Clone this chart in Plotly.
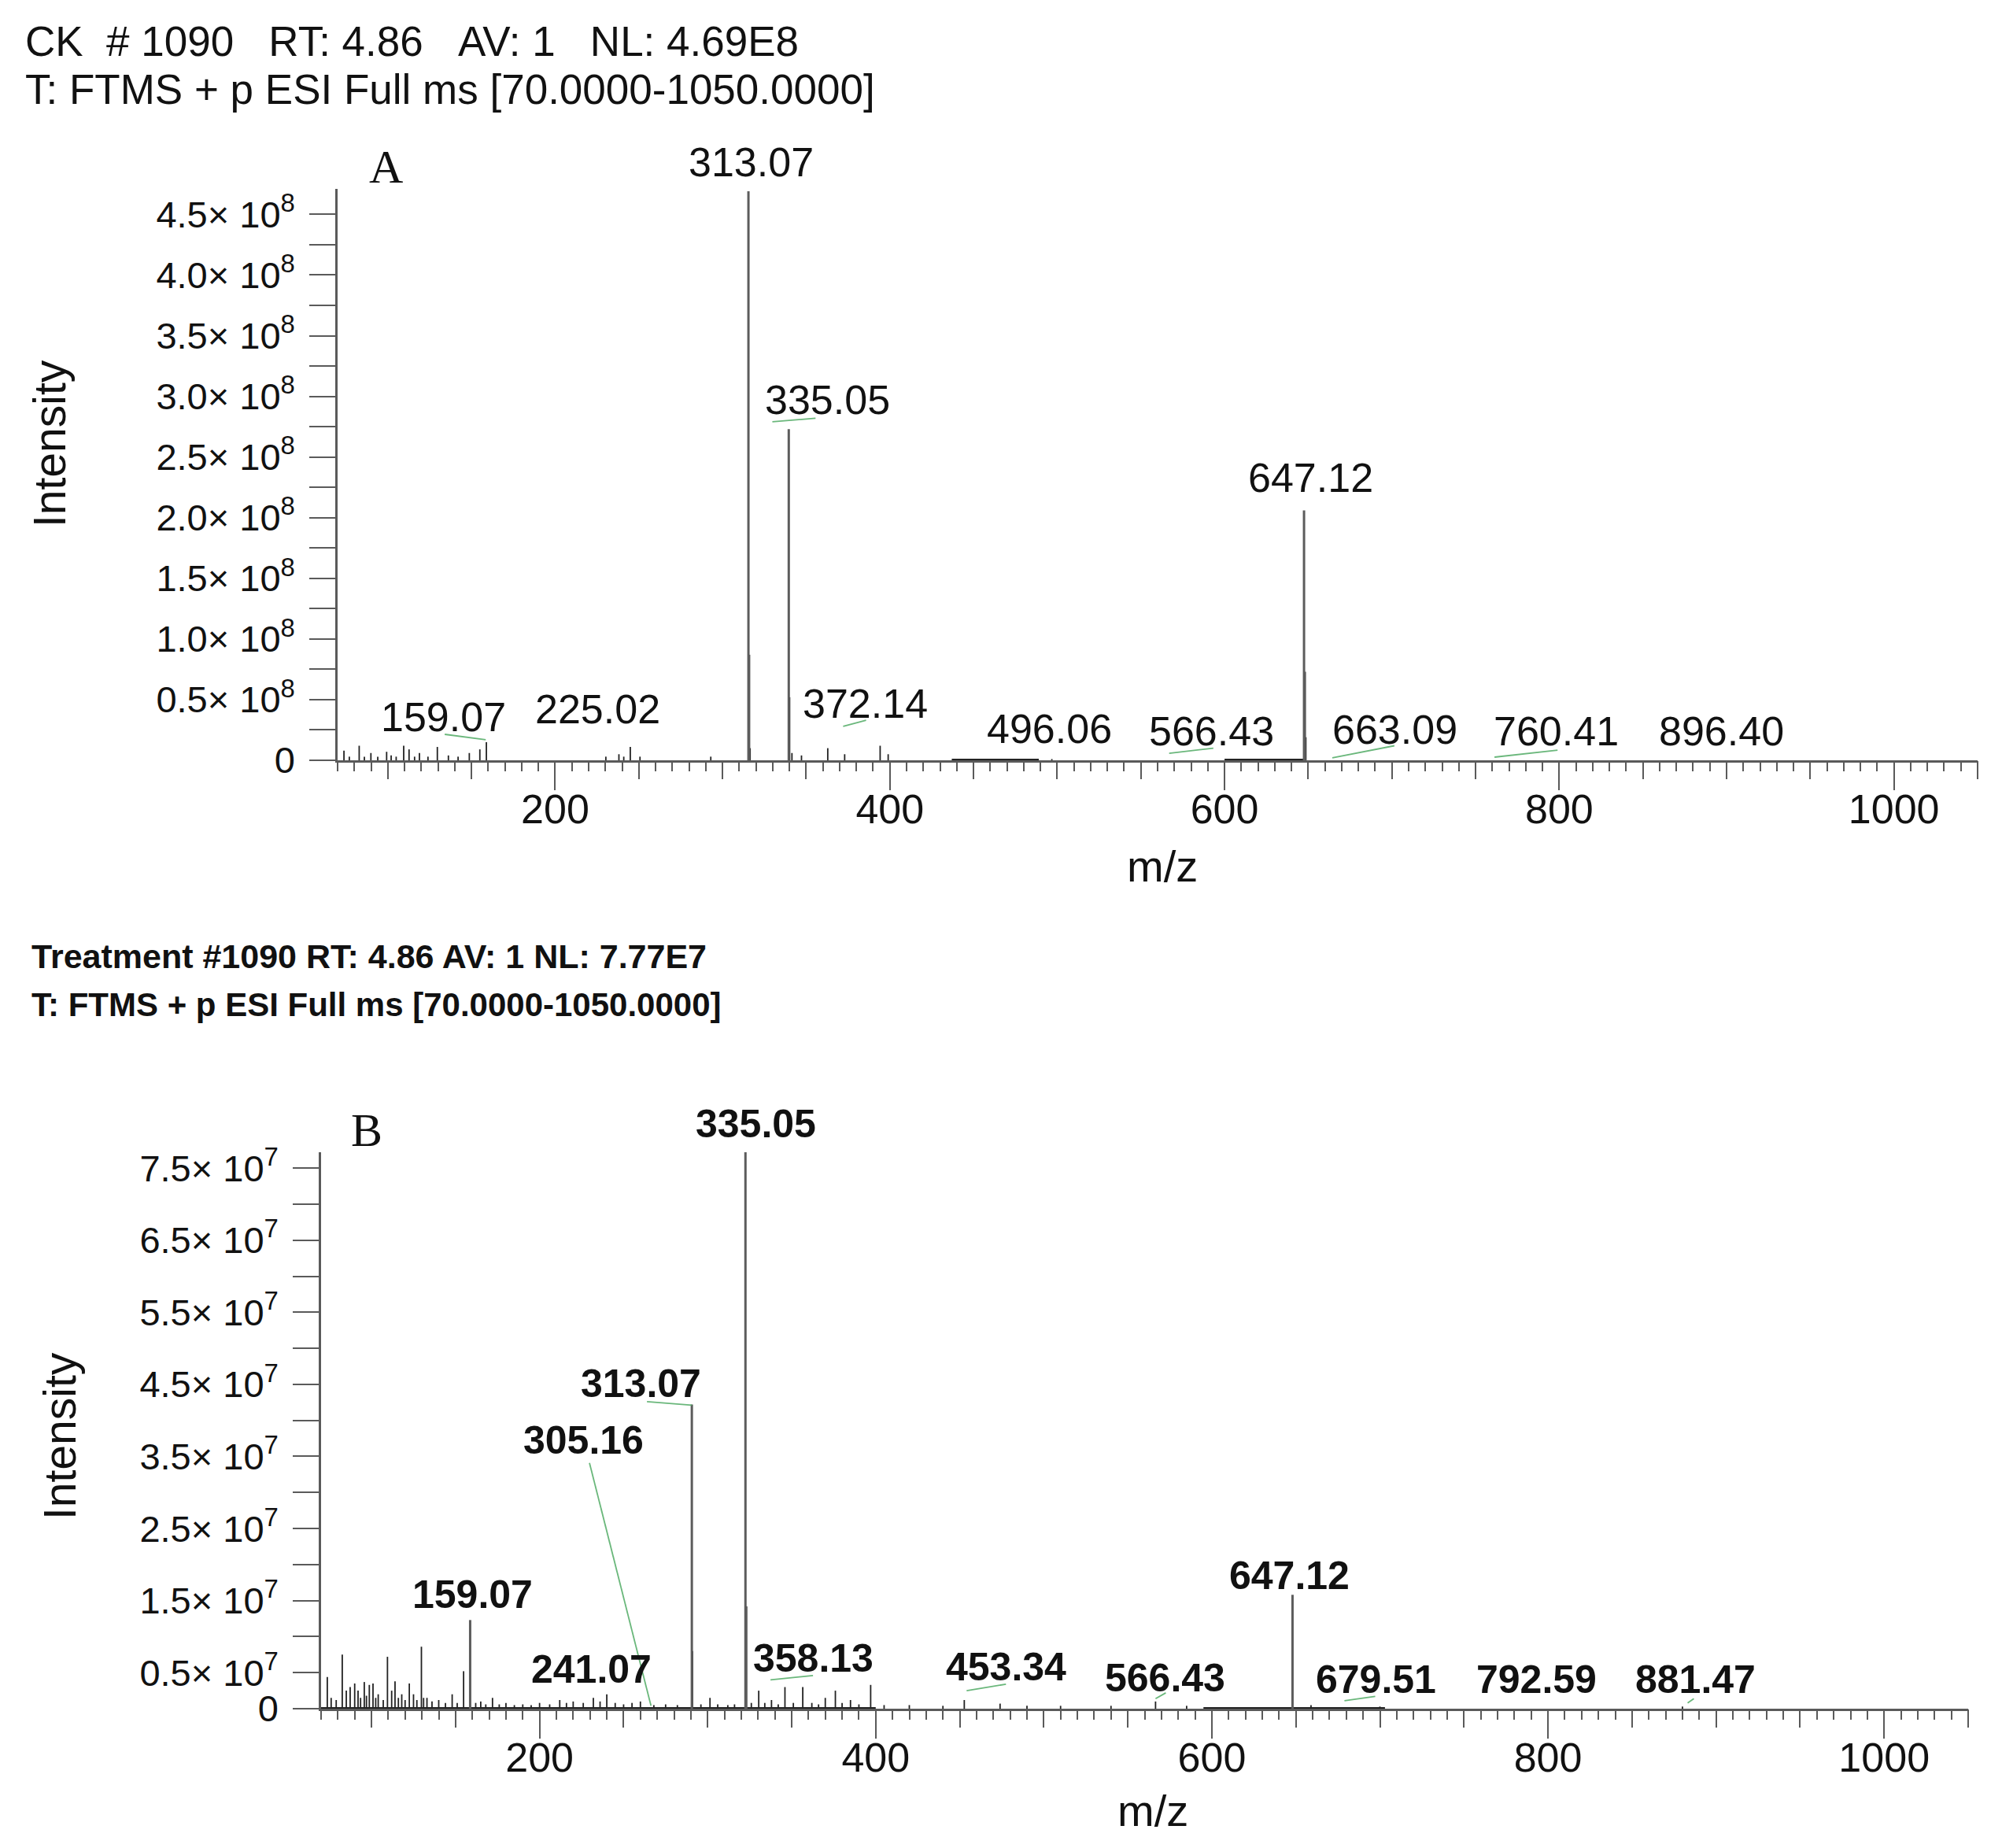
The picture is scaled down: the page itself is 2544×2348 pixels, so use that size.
import plotly.graph_objects as go

NB = "\u00a0"

# ---------------- Panel A (CK) : stick spectrum as drawn (m/z, intensity) ----------------
a_mz = [73.8, 77.0, 82.9, 86.0, 89.9, 94.0, 99.3, 102.0, 105.0, 109.5, 112.7, 116.0, 118.9, 124.0, 129.6,
        136.2, 142.0, 148.7, 155.0, 158.9,
        230.3, 238.1, 241.0, 244.9, 250.7, 293.0,
        315.5, 315.9, 316.5, 339.6, 340.1, 341.5, 347.2, 362.9, 373.0, 394.2, 399.0, 496.8,
        647.5, 648.0, 648.6]
a_int = [0.08e8, 0.03e8, 0.12e8, 0.03e8, 0.06e8, 0.03e8, 0.07e8, 0.04e8, 0.03e8, 0.12e8, 0.09e8, 0.03e8, 0.06e8,
         0.03e8, 0.11e8, 0.04e8, 0.03e8, 0.06e8, 0.09e8, 0.15e8,
         0.03e8, 0.05e8, 0.03e8, 0.11e8, 0.03e8, 0.03e8,
         4.69e8, 0.87e8, 0.10e8, 2.73e8, 0.52e8, 0.06e8, 0.04e8, 0.10e8, 0.05e8, 0.12e8, 0.05e8, 0.01e8,
         2.06e8, 0.73e8, 0.19e8]
a_dense_from = [437, 600]
a_dense_to = [489, 647]

a_lab_text = ["313.07", "335.05", "647.12", "159.07", "225.02", "372.14", "496.06", "566.43",
              "663.09", "760.41", "896.40"]
a_lab_mz = [317.1, 362.7, 651.6, 133.1, 225.3, 385.3, 495.4, 592.4, 702.0, 798.0, 896.8]
a_lab_int = [4.93e8, 2.97e8, 2.33e8, 0.357e8, 0.42e8, 0.47e8, 0.26e8, 0.24e8, 0.25e8, 0.24e8, 0.24e8]

# leader lines (start m/z, start int, end m/z, end int)
a_lead = [(134.0, 0.214e8, 158.5, 0.169e8), (329.8, 2.79e8, 355.6, 2.82e8),
          (372.1, 0.28e8, 385.8, 0.33e8), (566.9, 0.058e8, 593.3, 0.10e8),
          (664.4, 0.02e8, 701.5, 0.12e8), (761.3, 0.026e8, 799.0, 0.084e8)]

a_ymax = 4.71e8
a_yticks = [0, 0.5e8, 1.0e8, 1.5e8, 2.0e8, 2.5e8, 3.0e8, 3.5e8, 4.0e8, 4.5e8]
a_ylabels = ["0", "0.5× 10<sup>8</sup>", "1.0× 10<sup>8</sup>", "1.5× 10<sup>8</sup>", "2.0× 10<sup>8</sup>",
             "2.5× 10<sup>8</sup>", "3.0× 10<sup>8</sup>", "3.5× 10<sup>8</sup>", "4.0× 10<sup>8</sup>",
             "4.5× 10<sup>8</sup>"]

# ---------------- Panel B (Treatment) ----------------
b_mz = [73.7, 76.0, 79.0, 82.6, 85.0, 87.3, 90.0, 92.0, 93.5, 95.7, 97.0, 98.7, 100.9, 102.5, 104.0, 107.0,
        109.5, 112.0, 114.0, 116.0, 118.0, 120.0, 122.5, 125.0, 127.0, 129.7, 131.0, 133.0, 136.0, 140.0,
        144.0, 148.0, 151.0, 154.8, 158.7, 162.0, 165.0, 168.0, 172.0, 176.0, 180.0, 185.0, 190.0, 195.0,
        200.0, 206.0, 212.0, 216.0, 220.0, 226.0, 232.0, 236.0, 240.0, 245.0, 250.0, 255.0, 260.0, 268.0,
        275.0, 282.0, 290.6, 291.0, 296.0, 301.4, 306.0, 312.0, 316.0, 322.5, 323.0, 326.0, 330.4, 334.0,
        338.0, 342.0, 346.0, 351.0, 356.6, 362.0, 366.0, 370.0, 376.0, 380.0, 385.0, 390.0, 397.0, 405.0,
        420.0, 440.0, 452.7, 474.0, 490.0, 510.0, 540.0, 566.5, 585.0, 648.0, 659.0, 700.0, 880.0]
b_int = [0.44e7, 0.15e7, 0.12e7, 0.75e7, 0.25e7, 0.30e7, 0.35e7, 0.25e7, 0.15e7, 0.37e7, 0.18e7, 0.33e7, 0.35e7,
         0.15e7, 0.20e7, 0.12e7, 0.72e7, 0.25e7, 0.38e7, 0.15e7, 0.20e7, 0.12e7, 0.35e7, 0.20e7, 0.12e7,
         0.86e7, 0.15e7, 0.15e7, 0.10e7, 0.12e7, 0.08e7, 0.20e7, 0.08e7, 0.52e7, 1.23e7, 0.08e7, 0.10e7,
         0.06e7, 0.15e7, 0.06e7, 0.08e7, 0.05e7, 0.06e7, 0.05e7, 0.08e7, 0.06e7, 0.12e7, 0.08e7, 0.10e7,
         0.08e7, 0.15e7, 0.10e7, 0.20e7, 0.08e7, 0.06e7, 0.08e7, 0.10e7, 0.05e7, 0.06e7, 0.05e7, 4.22e7,
         0.80e7, 0.06e7, 0.15e7, 0.06e7, 0.05e7, 0.06e7, 7.77e7, 1.42e7, 0.08e7, 0.25e7, 0.08e7, 0.12e7,
         0.06e7, 0.30e7, 0.08e7, 0.30e7, 0.08e7, 0.06e7, 0.15e7, 0.25e7, 0.08e7, 0.12e7, 0.06e7, 0.33e7,
         0.05e7, 0.05e7, 0.04e7, 0.12e7, 0.07e7, 0.04e7, 0.04e7, 0.04e7, 0.10e7, 0.04e7, 1.58e7, 0.05e7,
         0.03e7, 0.03e7]
b_dense_from = [70, 595]
b_dense_to = [400, 703]

b_lab_text = ["335.05", "313.07", "305.16", "159.07", "241.07", "358.13", "453.34", "566.43",
              "647.12", "679.51", "792.59", "881.47"]
b_lab_mz = [328.5, 260.2, 226.0, 159.9, 230.7, 362.7, 477.5, 572.1, 646.1, 697.6, 793.2, 887.8]
b_lab_int = [8.11e7, 4.51e7, 3.72e7, 1.58e7, 0.55e7, 0.70e7, 0.58e7, 0.43e7, 1.85e7, 0.40e7, 0.40e7, 0.40e7]

b_lead = [(229.7, 3.41e7, 266.3, 0.04e7), (263.9, 4.26e7, 290.6, 4.21e7),
          (337.4, 0.40e7, 362.7, 0.46e7), (454.1, 0.25e7, 477.5, 0.34e7),
          (566.5, 0.14e7, 572.6, 0.22e7), (678.9, 0.11e7, 697.2, 0.17e7),
          (883.1, 0.08e7, 886.8, 0.14e7)]

b_ymax = 7.72e7
b_yticks = [0, 0.5e7, 1.5e7, 2.5e7, 3.5e7, 4.5e7, 5.5e7, 6.5e7, 7.5e7]
b_ylabels = ["0", "0.5× 10<sup>7</sup>", "1.5× 10<sup>7</sup>", "2.5× 10<sup>7</sup>", "3.5× 10<sup>7</sup>",
             "4.5× 10<sup>7</sup>", "5.5× 10<sup>7</sup>", "6.5× 10<sup>7</sup>", "7.5× 10<sup>7</sup>"]

x_ticks = [200, 400, 600, 800, 1000]
mz_range = [70, 1050]

# ---------------- layout helpers (page offset of the body margin) ----------------
W, H = 2544, 2348
DX, DY = 5.0, 8.0


def px(X):
    return (X - DX) / W


def py(Y):
    return 1 - (Y - DY) / H


SANS = "Liberation Sans, Arial, sans-serif"
SERIF = "Liberation Serif, Times New Roman, serif"
AX = "#5a5a5a"


def sticks(mz, inten, keep):
    xs, ys = [], []
    for m, i in zip(mz, inten):
        if keep(i):
            xs += [m, m, None]
            ys += [0, i, None]
    return xs, ys


def segs(pairs):
    xs, ys = [], []
    for x0, y0, x1, y1 in pairs:
        xs += [x0, x1, None]
        ys += [y0, y1, None]
    return xs, ys


def quarter_ticks(top, step):
    vals = []
    v = 0.0
    while v <= top * 1.0001:
        vals.append(v)
        v += step
    return vals


fig = go.Figure()


def add_panel(mz, inten, ymax, dfrom, dto, lead, xa, ya):
    big = lambda i: i > 0.12 * ymax
    small = lambda i: i <= 0.12 * ymax
    # dense low-level baseline
    dx, dy = segs([(f, 0, t, 0) for f, t in zip(dfrom, dto)])
    fig.add_trace(go.Scatter(x=dx, y=dy, mode="lines", line=dict(color="#222", width=4),
                             xaxis=xa, yaxis=ya, hoverinfo="skip", showlegend=False, cliponaxis=False))
    sx, sy = sticks(mz, inten, small)
    fig.add_trace(go.Scatter(x=sx, y=sy, mode="lines", line=dict(color="#222", width=1.8),
                             xaxis=xa, yaxis=ya, hoverinfo="skip", showlegend=False))
    bx, by = sticks(mz, inten, big)
    fig.add_trace(go.Scatter(x=bx, y=by, mode="lines", line=dict(color="#5c5c5c", width=3),
                             xaxis=xa, yaxis=ya, hoverinfo="skip", showlegend=False))
    lx, ly = segs(lead)
    fig.add_trace(go.Scatter(x=lx, y=ly, mode="lines", line=dict(color="rgba(80,170,100,0.85)", width=1.8),
                             xaxis=xa, yaxis=ya, hoverinfo="skip", showlegend=False, cliponaxis=False))


add_panel(a_mz, a_int, a_ymax, a_dense_from, a_dense_to, a_lead, "x", "y")
add_panel(b_mz, b_int, b_ymax, b_dense_from, b_dense_to, b_lead, "x2", "y2")

# carrier traces for the overlay tick axes
fig.add_trace(go.Scatter(x=[None], y=[None], xaxis="x3", yaxis="y", showlegend=False, hoverinfo="skip"))
fig.add_trace(go.Scatter(x=[None], y=[None], xaxis="x4", yaxis="y2", showlegend=False, hoverinfo="skip"))


def tick_set(top, step, vals, labels):
    tv = quarter_ticks(top, step)
    tt = []
    for v in tv:
        lab = ""
        for a, b in zip(vals, labels):
            if abs(a - v) < 1:
                lab = b
        tt.append(lab)
    return tv, tt


a_tv, a_tt = tick_set(4.5e8, 0.25e8, a_yticks, a_ylabels)
b_tv, b_tt = tick_set(7.5e7, 0.5e7, b_yticks, b_ylabels)

xa_dom = [px(426), px(2510)]
xb_dom = [px(405), px(2498)]
ya_dom = [py(966), py(240)]
yb_dom = [py(2171), py(1464)]

common_x = dict(range=mz_range, showgrid=False, zeroline=False, showline=True, linecolor=AX, linewidth=2.5,
                ticks="outside", ticklen=35, tickwidth=2, tickcolor=AX, tickmode="array", tickvals=x_ticks,
                tickfont=dict(family=SANS, size=52, color="#111"), ticklabelstandoff=-20, automargin=False,
                minor=dict(tickmode="linear", tick0=0, dtick=10, ticks="outside", ticklen=11, tickwidth=1.5,
                           tickcolor=AX))
overlay_x = dict(range=mz_range, showgrid=False, zeroline=False, showline=False, ticks="outside", ticklen=23,
                 tickwidth=1.8, tickcolor=AX, tickmode="linear", tick0=0, dtick=50, showticklabels=False,
                 automargin=False)
common_y = dict(showgrid=False, zeroline=False, showline=True, linecolor=AX, linewidth=2.5, ticks="outside",
                ticklen=33, tickwidth=2, tickcolor=AX, tickmode="array", automargin=False,
                tickfont=dict(family=SANS, size=47, color="#111"), ticklabelstandoff=9)

fig.update_layout(
    width=W, height=H, margin=dict(l=0, r=0, t=0, b=0, autoexpand=False),
    paper_bgcolor="white", plot_bgcolor="white", showlegend=False,
    xaxis=dict(domain=xa_dom, anchor="y", **common_x),
    xaxis3=dict(overlaying="x", anchor="y", side="bottom", **overlay_x),
    yaxis=dict(domain=ya_dom, anchor="x", range=[0, a_ymax], tickvals=a_tv, ticktext=a_tt, **common_y),
    xaxis2=dict(domain=xb_dom, anchor="y2", **common_x),
    xaxis4=dict(overlaying="x2", anchor="y2", side="bottom", **overlay_x),
    yaxis2=dict(domain=yb_dom, anchor="x2", range=[0, b_ymax], tickvals=b_tv, ticktext=b_tt, **common_y),
)

ann = []
# peak labels A (positions relative to the y domain so labels above the range stay visible)
for t, m, i in zip(a_lab_text, a_lab_mz, a_lab_int):
    ann.append(dict(x=m, y=i / a_ymax, xref="x", yref="y domain", text=t, showarrow=False,
                    xanchor="center", yanchor="middle", font=dict(family=SANS, size=52, color="#111")))
# peak labels B (bold)
for t, m, i in zip(b_lab_text, b_lab_mz, b_lab_int):
    ann.append(dict(x=m, y=i / b_ymax, xref="x2", yref="y2 domain", text="<b>" + t + "</b>", showarrow=False,
                    xanchor="center", yanchor="middle", font=dict(family=SANS, size=50, color="#111")))

# headers
hdrA1 = "CK" + NB * 2 + "#" + NB + "1090" + NB * 3 + "RT:" + NB + "4.86" + NB * 3 + "AV:" + NB + "1" + NB * 3 + "NL:" + NB + "4.69E8"
hdr2 = "T:" + NB + "FTMS" + NB + "+" + NB + "p" + NB + "ESI" + NB + "Full" + NB + "ms" + NB + "[70.0000-1050.0000]"
hdrB1 = "Treatment #1090 RT: 4.86 AV: 1 NL: 7.77E7"


def txt(text, X, Y, size, family=SANS, xanchor="center", angle=0):
    return dict(x=px(X), y=py(Y), xref="paper", yref="paper", text=text, showarrow=False, textangle=angle,
                xanchor=xanchor, yanchor="middle", font=dict(family=family, size=size, color="#111"))


ann.append(txt(hdrA1, 31 - 4, 52, 53, xanchor="left"))
ann.append(txt(hdr2, 31 - 4, 113, 53, xanchor="left"))
ann.append(txt("<b>" + hdrB1 + "</b>", 39 - 4, 1215, 43, xanchor="left"))
ann.append(txt("<b>" + hdr2 + "</b>", 39 - 4, 1277, 42, xanchor="left"))

ann.append(txt("A", 487, 212, 60, family=SERIF))
ann.append(txt("B", 463, 1436, 60, family=SERIF))

ann.append(txt("Intensity", 60, 564, 57, angle=-90))
ann.append(txt("Intensity", 73, 1825, 57, angle=-90))
ann.append(txt("m/z", 1474, 1100, 56))
ann.append(txt("m/z", 1462, 2300, 56))

fig.update_layout(annotations=ann)
fig.write_html("out.html")
